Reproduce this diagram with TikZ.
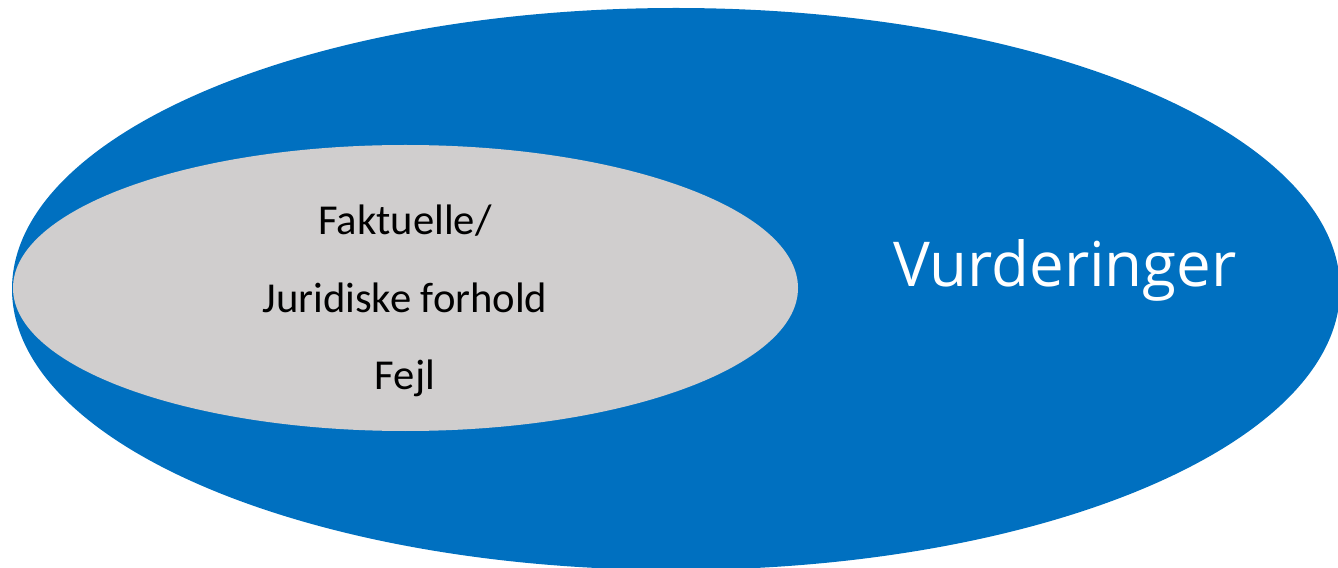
\documentclass[tikz,border=0pt]{standalone}
\usepackage{fontspec}
\setmainfont{Carlito}
\newfontfamily\segoe{Open Sans}
\definecolor{vurdblue}{HTML}{0070C0}
\definecolor{faktgrey}{HTML}{D0CECE}
\tikzset{
  inner/.style={anchor=base, inner sep=0pt, font=\fontsize{45.5}{50}\selectfont},
  outer/.style={anchor=base, inner sep=0pt, text=white, font=\segoe\fontsize{66}{70}\selectfont}
}

\begin{document}
\begin{tikzpicture}[x=0.0375cm, y=0.0375cm]
    \useasboundingbox (0,0) rectangle (1338,567);

    % coordinates to be reused
    \coordinate (O) at (676,278);
    \coordinate (I) at (405.5,279);

    % draw figure
    \begin{scope}
    \clip (0,0) rectangle (1338,567);
    \fill [vurdblue] (O) ellipse [x radius=664, y radius=281];
    \fill [faktgrey] (I) ellipse [x radius=392.5, y radius=143];
    \end{scope}

    % add labels
    \node [inner] (fakt) at (405,332) {Faktuelle/};
    \node [inner] (jur) at (405,254) {Juridiske forhold};
    \node [inner] (fejl) at (405,177) {Fejl};
    \node [outer] (vurd) at (1065,280) {Vurderinger};
\end{tikzpicture}
\end{document}
